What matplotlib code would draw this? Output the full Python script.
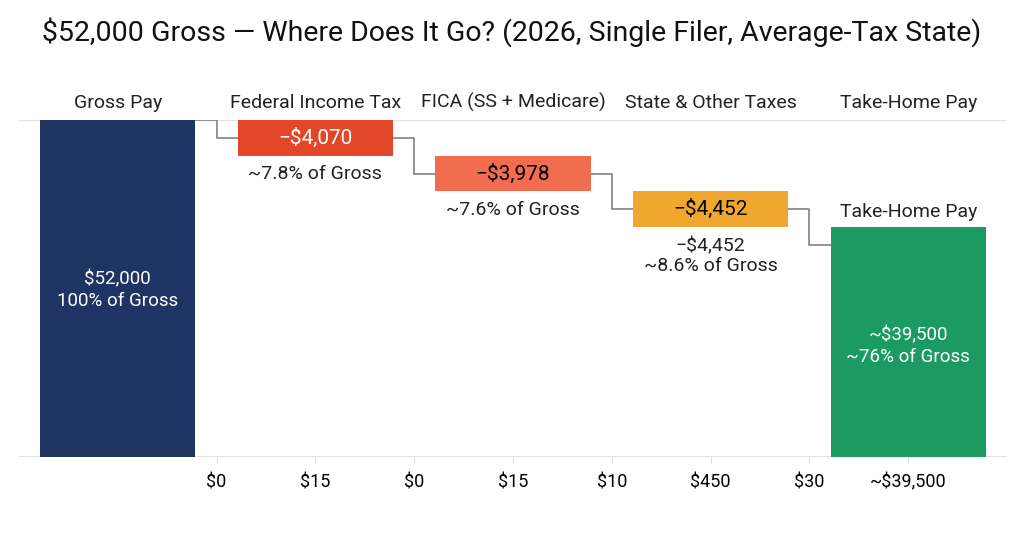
import matplotlib.pyplot as plt

plt.rcParams["font.family"] = ["Roboto", "DejaVu Sans"]

# Categories and values (heights are as drawn in the reference, not to scale)
categories = ["Gross Pay", "Federal Income Tax", "FICA (SS + Medicare)",
              "State & Other Taxes", "Take-Home Pay"]
gross_height = 100.0
tax_drops = [10.6, 10.6, 10.6]
tax_values = ["\u2212$4,070", "\u2212$3,978", "\u2212$4,452"]
tax_notes = ["~7.8% of Gross", "~7.6% of Gross", "\u2212$4,452\n~8.6% of Gross"]
gross_label = "$52,000\n100% of Gross"
takehome_label = "~$39,500\n~76% of Gross"
tick_pos = [0.5, 1, 1.5, 2, 2.5, 3, 3.5, 4]
tick_labels = ["$0", "$15", "$0", "$15", "$10", "$450", "$30", "~$39,500"]

navy = "#1f3463"
tax_colors = ["#e3472a", "#f26c4f", "#f0a72e"]
tax_text_colors = ["white", "black", "black"]
green = "#1b9b62"
line_gray = "#777777"

fig = plt.figure(figsize=(10.24, 5.41), dpi=100)
ax = fig.add_axes([19 / 1024, 84 / 541, 988 / 1024, 337 / 541])
width = 0.785

# Gross bar
ax.bar(0, gross_height, width=width, color=navy, zorder=3)
ax.text(0, 49.5, gross_label, ha="center", va="center", color="white",
        fontsize=13.5, linespacing=1.25, zorder=4)

# Tax bars
top = gross_height
tops = []
for i, d in enumerate(tax_drops):
    x = i + 1
    ax.bar(x, -d, bottom=top, width=width, color=tax_colors[i], zorder=3)
    ax.text(x, top - d / 2, tax_values[i], ha="center", va="center",
            color=tax_text_colors[i], fontsize=15, zorder=4)
    ax.text(x, top - d - 2.9, tax_notes[i], ha="center", va="top",
            color="#222222", fontsize=14, linespacing=1.15, zorder=4)
    tops.append(top)
    top -= d

# Take-home bar
takehome = top
ax.bar(4, takehome, width=width, color=green, zorder=3)
ax.text(4, takehome + 1.9, "Take-Home Pay", ha="center", va="bottom",
        color="#222222", fontsize=14, zorder=4)
ax.text(4, 33.0, takehome_label, ha="center", va="center", color="white",
        fontsize=13.5, linespacing=1.25, zorder=4)

# Connector lines between bars
levels = [gross_height] + [t - d / 2 for t, d in zip(tops, tax_drops)]
levels.append(takehome - tax_drops[-1] / 2)
for i in range(4):
    xs = [i + width / 2, i + 0.5, i + 0.5, i + 1 - width / 2]
    ys = [levels[i], levels[i], levels[i + 1], levels[i + 1]]
    ax.plot(xs, ys, color=line_gray, lw=1.1, zorder=2)

# Category labels on top
for i, c in enumerate(categories):
    ax.text(i, 102.3, c, ha="center", va="bottom", color="#222222",
            fontsize=14, clip_on=False)

ax.axhline(0, color="#dddddd", lw=1.2, zorder=1)
ax.axhline(100, color="#e3e3e3", lw=1.0, zorder=1)

ax.set_xlim(-0.5, 4.5)
ax.set_ylim(0, 100)
ax.set_xticks(tick_pos)
ax.set_xticklabels(tick_labels, fontsize=13)
ax.tick_params(axis="x", length=4, color="#dddddd", pad=8)
ax.set_yticks([])
for s in ax.spines.values():
    s.set_visible(False)

fig.text(0.5, 1 - 32 / 541, "$52,000 Gross \u2014 Where Does It Go? (2026, Single Filer, Average-Tax State)",
         ha="center", va="center", fontsize=20.5, color="#111111")

fig.savefig("out.png", dpi=100, facecolor="white")
